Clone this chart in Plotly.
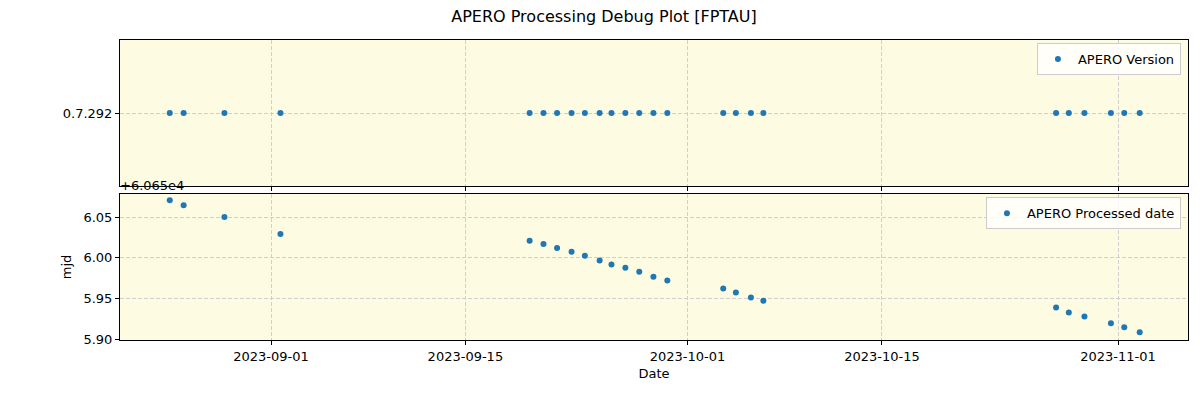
import plotly.graph_objects as go
from plotly.subplots import make_subplots

# observation dates (x for both panels)
obs_dates = [
    "2023-08-24 17:00", "2023-08-25 17:00", "2023-08-28 15:30", "2023-09-01 16:20",
    "2023-09-19 15:00", "2023-09-20 15:00", "2023-09-21 14:30", "2023-09-22 15:30",
    "2023-09-23 14:30", "2023-09-24 16:00", "2023-09-25 12:30", "2023-09-26 12:30",
    "2023-09-27 12:30", "2023-09-28 13:00", "2023-09-29 13:00", "2023-10-03 13:40",
    "2023-10-04 11:30", "2023-10-05 13:30", "2023-10-06 11:00", "2023-10-27 13:00",
    "2023-10-28 11:00", "2023-10-29 14:00", "2023-10-31 11:45", "2023-11-01 10:50",
    "2023-11-02 13:30",
]
apero_version = ["0.7.292"] * len(obs_dates)
processed_mjd = [
    60656.0707, 60656.0646, 60656.0500, 60656.0293, 60656.0211, 60656.0171,
    60656.0122, 60656.0073, 60656.0024, 60655.9967, 60655.9918, 60655.9878,
    60655.9829, 60655.9768, 60655.9720, 60655.9622, 60655.9573, 60655.9512,
    60655.9471, 60655.9390, 60655.9329, 60655.9280, 60655.9195, 60655.9146,
    60655.9085,
]
mjd_offset = 60650.0
mjd_ticks = [5.90, 5.95, 6.00, 6.05]

blue = "#1f77b4"
bg = "#fdfbe2"
grid = "#cfcfcf"
font = "DejaVu Sans"

# the page body adds an 8px margin, so the figure is drawn 8px smaller
W, H = 1192, 392
ML, MR, MT, MB = 112, 12, 32, 60
plot_h = H - MT - MB

fig = make_subplots(rows=2, cols=1, shared_xaxes=True, vertical_spacing=8 / plot_h)

fig.add_trace(go.Scatter(x=obs_dates, y=apero_version, mode="markers", name="APERO Version",
                         marker=dict(color=blue, size=6), legend="legend"), row=1, col=1)
fig.add_trace(go.Scatter(x=obs_dates, y=[v - mjd_offset for v in processed_mjd], mode="markers",
                         name="APERO Processed date", marker=dict(color=blue, size=6),
                         legend="legend2"), row=2, col=1)

axis_style = dict(showline=True, linecolor="black", linewidth=1, mirror=True,
                  ticks="outside", ticklen=4, tickcolor="black",
                  showgrid=True, gridcolor=grid, griddash="4px,2px", gridwidth=1,
                  zeroline=False, tickfont=dict(size=13, color="black"))

x_range = ["2023-08-21 03:00", "2023-11-06 01:00"]
fig.update_xaxes(**axis_style, range=x_range, type="date",
                 tickvals=["2023-09-01", "2023-09-15", "2023-10-01", "2023-10-15", "2023-11-01"],
                 tickformat="%Y-%m-%d")
fig.update_xaxes(showticklabels=False, row=1, col=1)
fig.update_xaxes(title=dict(text="Date", font=dict(size=13, color="black"), standoff=6), row=2, col=1)

fig.update_yaxes(**axis_style)
fig.update_yaxes(type="category", range=[-1, 1], row=1, col=1)
fig.update_yaxes(range=[5.899, 6.0784], tickvals=mjd_ticks, tickformat=".2f",
                 title=dict(text="mjd", font=dict(size=13, color="black"), standoff=8), row=2, col=1)

fig.add_annotation(text="+6.065e4", xref="paper", yref="paper", x=0, y=146 / plot_h,
                   xanchor="left", yanchor="bottom", showarrow=False, xshift=-2, yshift=-1,
                   font=dict(size=13, color="black", family=font))

legend_style = dict(xanchor="right", yanchor="top", bgcolor="rgba(255,255,255,0.8)",
                    bordercolor="#cccccc", borderwidth=1, font=dict(size=13, color="black"),
                    tracegroupgap=0)
fig.update_layout(
    width=W, height=H,
    margin=dict(l=ML, r=MR, t=MT, b=MB),
    paper_bgcolor="white", plot_bgcolor=bg,
    font=dict(family=font, size=13, color="black"),
    title=dict(text="APERO Processing Debug Plot [FPTAU]", x=0.5, xanchor="center",
               y=1 - 8 / H, yanchor="middle", font=dict(size=16, color="black")),
    showlegend=True,
    legend=dict(x=0.9934, y=0.99, **legend_style),
    legend2=dict(x=0.9934, y=0.476, **legend_style),
)

fig.write_html("out.html")
